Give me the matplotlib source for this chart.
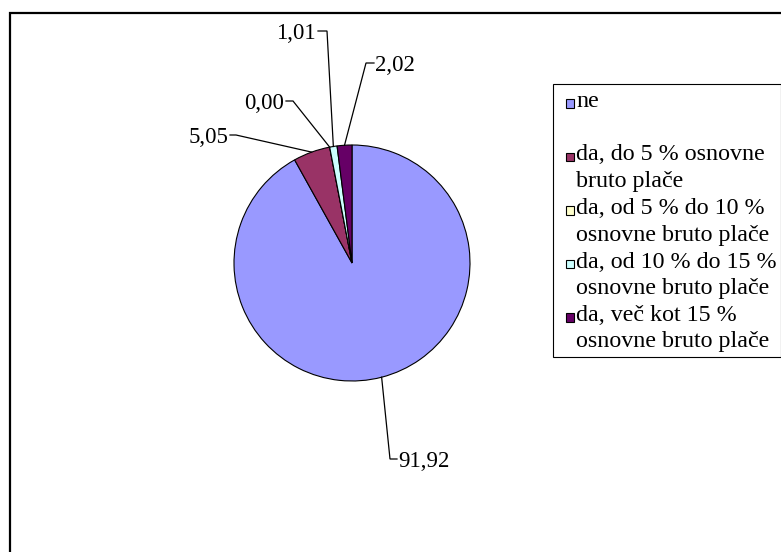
import matplotlib
matplotlib.use("Agg")
import matplotlib.pyplot as plt
from matplotlib.patches import Rectangle
import numpy as np

plt.rcParams['font.family'] = ['Liberation Serif', 'DejaVu Serif']

categories = [
    "ne\n",
    "da, do 5 % osnovne\nbruto plače",
    "da, od 5 % do 10 %\nosnovne bruto plače",
    "da, od 10 % do 15 %\nosnovne bruto plače",
    "da, več kot 15 %\nosnovne bruto plače",
]
shares = [91.92, 5.05, 0.00, 1.01, 2.02]
colors = ["#9999FF", "#993366", "#FFFFCC", "#CCFFFF", "#660066"]

# label placement in pixels (x, baseline y, alignment, elbow x)
label_spots = [
    (398, 467, "left", 390),
    (228, 143, "right", 236),
    (284, 109, "right", 293),
    (316, 39, "right", 327),
    (375, 71, "left", 366),
]

W, H = 781, 552
fig = plt.figure(figsize=(W / 100, H / 100), dpi=100)
ax = fig.add_axes([0, 0, 1, 1])


def py(y):
    # pixel rows run downwards
    return H - y


cx, cy, r = 352, 263, 118
wedges, _ = ax.pie(shares, colors=colors, startangle=90, counterclock=False,
                   center=(cx, py(cy)), radius=r,
                   wedgeprops=dict(edgecolor="black", linewidth=0.8))
ax.set_xlim(0, W)
ax.set_ylim(0, H)
ax.axis("off")

for w, v, (tx, ty, ha, ex) in zip(wedges, shares, label_spots):
    mid = np.deg2rad((w.theta1 + w.theta2) / 2)
    px, pyy = cx + r * np.cos(mid), py(cy) + r * np.sin(mid)
    ly = py(ty - 8)
    end = tx - 1 if ha == "left" else tx + 2
    ax.plot([px, ex, end], [pyy, ly, ly], color="black", lw=0.9,
            solid_joinstyle="miter")
    ax.text(tx, py(ty), f"{v:.2f}".replace(".", ","), ha=ha, va="baseline",
            fontsize=16.5)

# outer frame
ax.add_patch(Rectangle((10, py(H + 20)), W + 20, H + 7, fill=False,
                       edgecolor="black", lw=1.6, clip_on=False))

# legend
ax.add_patch(Rectangle((552.5, py(357)), 228, 273, fill=False,
                       edgecolor="black", lw=0.8))
for i, (lab, c) in enumerate(zip(categories, colors)):
    y0 = 103 + i * 53.5
    ax.add_patch(Rectangle((565.5, py(y0 + 4.5)), 8.5, 8.5, facecolor=c,
                           edgecolor="black", lw=0.8))
    for j, line in enumerate(lab.split("\n")):
        ax.text(576, py(y0 + 4 + j * 26.5), line, ha="left", va="baseline",
                fontsize=17.3)

fig.savefig("out.png", dpi=100)
